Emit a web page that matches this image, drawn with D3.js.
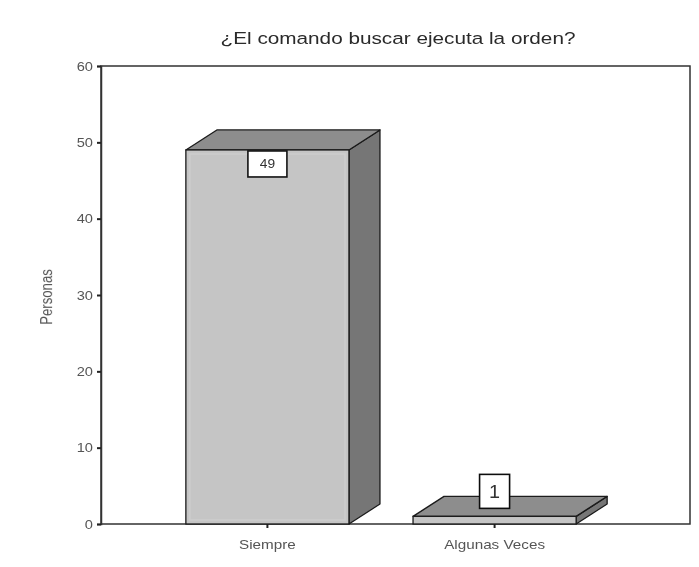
<!DOCTYPE html>
<html>
<head>
<meta charset="utf-8">
<script src="https://cdn.jsdelivr.net/npm/d3@7"></script>
<style>
  html, body { margin: 0; padding: 0; background: #fff; }
  svg { display: block; }
</style>
</head>
<body>
<svg id="chart" width="699" height="567"></svg>
<script>
// Survey answers: "¿El comando buscar ejecuta la orden?"
const categories = ["Siempre", "Algunas Veces"];
const values = [49, 1];
const yTicks = [0, 10, 20, 30, 40, 50, 60];
const chartTitle = "¿El comando buscar ejecuta la orden?";
const yLabel = "Personas";

const W = 699, H = 567;
const frame = { left: 101, top: 66, right: 690, bottom: 524 };
const depth = { dx: 31, dy: -20 };
const stretch = 1.22;          // wide lettering of the original export
const FONT = "Arial, 'Liberation Sans', sans-serif";

const svg = d3.select("#chart");
svg.append("defs").append("filter").attr("id", "soft")
  .attr("x", "-5%").attr("y", "-5%").attr("width", "110%").attr("height", "110%")
  .append("feGaussianBlur").attr("stdDeviation", 0.7);
const root = svg.append("g").attr("filter", "url(#soft)");

const y = d3.scaleLinear().domain([0, 60]).range([frame.bottom, frame.top]);
const x = d3.scaleBand().domain(categories)
  .range([95, 667]).paddingInner(0.282).paddingOuter(0.4);

// place a horizontally widened text at (px, py)
function wideText(sel, px, py, sx = stretch) {
  return sel.attr("x", 0).attr("y", 0)
    .attr("transform", `translate(${px},${py}) scale(${sx},1)`);
}

// title
wideText(root.append("text"), 398, 44)
  .attr("text-anchor", "middle")
  .attr("font-family", FONT)
  .attr("font-size", 17)
  .attr("fill", "#2a2a2a")
  .text(chartTitle);

// plot frame
root.append("rect")
  .attr("x", frame.left).attr("y", frame.top)
  .attr("width", frame.right - frame.left).attr("height", frame.bottom - frame.top)
  .attr("fill", "none").attr("stroke", "#333").attr("stroke-width", 1.5);

// y axis
const yAxis = d3.axisLeft(y).tickValues(yTicks).tickSize(4);
const gy = root.append("g").attr("transform", `translate(${frame.left},0)`).call(yAxis);
gy.select(".domain").attr("stroke", "#333").attr("stroke-width", 1.5);
gy.selectAll(".tick line").attr("stroke", "#222").attr("stroke-width", 2);
gy.selectAll(".tick text").each(function () {
  wideText(d3.select(this), -8, 0).attr("dy", "0.36em");
}).attr("font-family", FONT).attr("font-size", 12).attr("fill", "#555");

// x axis
const xAxis = d3.axisBottom(x).tickSize(4);
const gx = root.append("g").attr("transform", `translate(0,${frame.bottom})`).call(xAxis);
gx.select(".domain").remove();
gx.selectAll(".tick line").attr("stroke", "#222").attr("stroke-width", 2);
gx.selectAll(".tick text").each(function () {
  wideText(d3.select(this), 0, 25).attr("dy", null);
}).attr("font-family", FONT).attr("font-size", 12.5).attr("fill", "#555");

// y label
root.append("text")
  .attr("transform", `translate(52,${(frame.top + frame.bottom) / 2 + 2}) rotate(-90) scale(1.1,1.3)`)
  .attr("text-anchor", "middle")
  .attr("font-family", FONT)
  .attr("font-size", 12).attr("fill", "#555")
  .text(yLabel);

// 3D bars
const data = categories.map((c, i) => ({ c, v: values[i] }));
const bars = root.selectAll("g.bar").data(data).join("g").attr("class", "bar");

bars.each(function (d) {
  const g = d3.select(this);
  const x0 = x(d.c), x1 = x(d.c) + x.bandwidth();
  const y0 = y(0), y1 = y(d.v);
  const { dx, dy } = depth;
  const pts = a => a.map(p => p.join(",")).join(" ");
  // side face
  g.append("polygon")
    .attr("points", pts([[x1, y1], [x1 + dx, y1 + dy], [x1 + dx, y0 + dy], [x1, y0]]))
    .attr("fill", "#767676").attr("stroke", "#1a1a1a").attr("stroke-width", 1.3)
    .attr("stroke-linejoin", "round");
  // top face
  g.append("polygon")
    .attr("points", pts([[x0, y1], [x0 + dx, y1 + dy], [x1 + dx, y1 + dy], [x1, y1]]))
    .attr("fill", "#8d8d8d").attr("stroke", "#1a1a1a").attr("stroke-width", 1.3)
    .attr("stroke-linejoin", "round");
  // front face
  g.append("rect")
    .attr("x", x0).attr("y", y1).attr("width", x1 - x0).attr("height", y0 - y1)
    .attr("fill", "#c5c5c5").attr("stroke", "#1a1a1a").attr("stroke-width", 1.3);
  // faint highlight along the inner edge of the front face
  if (y0 - y1 > 12) {
    g.append("rect")
      .attr("x", x0 + 4).attr("y", y1 + 4).attr("width", x1 - x0 - 8).attr("height", y0 - y1 - 8)
      .attr("fill", "none").attr("stroke", "#cdcdcd").attr("stroke-width", 1.5);
  }
});

// value labels
const labelSpec = [
  { w: 39, h: 26, dyTop: 1, fs: 12, sx: 1.15 },
  { w: 30, h: 34, dyTop: -42, fs: 18, sx: 1.1 }
];
bars.each(function (d, i) {
  const g = d3.select(this);
  const s = labelSpec[i];
  const cx = x(d.c) + x.bandwidth() / 2;
  const top = y(d.v) + s.dyTop;
  g.append("rect")
    .attr("x", cx - s.w / 2).attr("y", top).attr("width", s.w).attr("height", s.h)
    .attr("fill", "#fff").attr("stroke", "#111").attr("stroke-width", 1.6);
  wideText(g.append("text"), cx, top + s.h / 2, s.sx)
    .attr("dy", "0.36em")
    .attr("text-anchor", "middle")
    .attr("font-family", FONT)
    .attr("font-size", s.fs).attr("fill", "#333")
    .text(d.v);
});
</script>
</body>
</html>
